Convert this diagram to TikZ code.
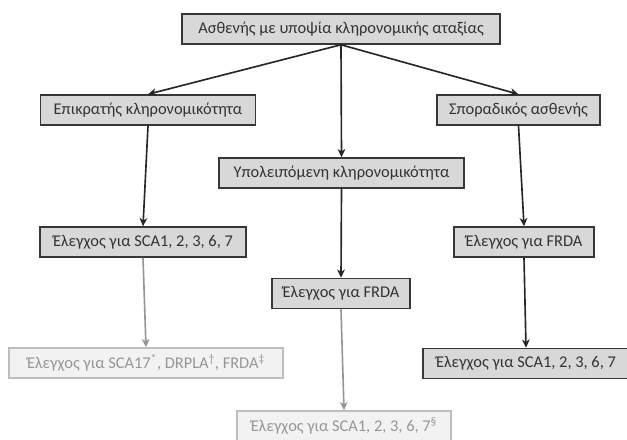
\documentclass[tikz,border=0pt]{standalone}
\usepackage{fontspec}
\setmainfont{Carlito}
\usepackage{xcolor}
\usepackage{tikz}
\usetikzlibrary{arrows.meta}

\definecolor{boxfill}{RGB}{216,216,216}
\definecolor{boxline}{RGB}{55,55,55}
\definecolor{lightfill}{RGB}{242,242,242}
\definecolor{lightline}{RGB}{190,190,190}
\definecolor{lighttext}{RGB}{150,150,150}

\tikzset{
  stepbox/.style={draw=boxline, fill=boxfill, line width=1.3pt, minimum height=0.9cm,
    inner xsep=2pt, text=black!80, font=\fontsize{14}{16}\selectfont},
  lightbox/.style={stepbox, draw=lightline, fill=lightfill, text=lighttext},
  arr/.style={-{Stealth[length=7pt,width=6.5pt,inset=2pt]}, line width=1.4pt, draw=black!85},
  lightarr/.style={arr, draw=lighttext}
}

\begin{document}
\begin{tikzpicture}[x=0.03cm,y=-0.03cm]
\useasboundingbox (0,0) rectangle (627,439);
\node[stepbox, minimum width=9.54cm] (top) at (341,29) {Ασθενής με υποψία κληρονομικής αταξίας};
\node[stepbox, minimum width=6.45cm] (dom) at (148,110) {Επικρατής κληρονομικότητα};
\node[stepbox, minimum width=4.89cm] (spor) at (518.5,110) {Σποραδικός ασθενής};
\node[stepbox, minimum width=7.35cm] (rec) at (341.5,173) {Υπολειπόμενη κληρονομικότητα};
\node[stepbox, minimum width=6.18cm] (domtest) at (143,242) {Έλεγχος για SCA1, 2, 3, 6, 7};
\node[stepbox, minimum width=4.2cm] (sportest) at (524,242) {Έλεγχος για FRDA};
\node[stepbox, minimum width=4.14cm] (rectest) at (341,293.5) {Έλεγχος για FRDA};
\node[lightbox, minimum width=8.22cm] (domgray) at (146,363) {Έλεγχος για SCA17\textsuperscript{*}, DRPLA\textsuperscript{†}, FRDA\textsuperscript{‡}};
\node[stepbox, minimum width=6.18cm] (sporfinal) at (526,363.5) {Έλεγχος για SCA1, 2, 3, 6, 7};
\node[lightbox, minimum width=6.42cm] (recgray) at (344,426) {Έλεγχος για SCA1, 2, 3, 6, 7\textsuperscript{§}};
% connectors
\draw[arr] (top.south) -- (dom.north);
\draw[arr] (top.south) -- (rec.north);
\draw[arr] (top.south) -- (spor.north);
\draw[arr] (dom.south) -- (domtest.north);
\draw[arr] (rec.south) -- (rectest.north);
\draw[arr] (spor.south) -- (sportest.north);
\draw[lightarr] (domtest.south) -- (domgray.north);
\draw[lightarr] (rectest.south) -- (recgray.north);
\draw[arr] (sportest.south) -- (sporfinal.north);
\end{tikzpicture}
\end{document}
